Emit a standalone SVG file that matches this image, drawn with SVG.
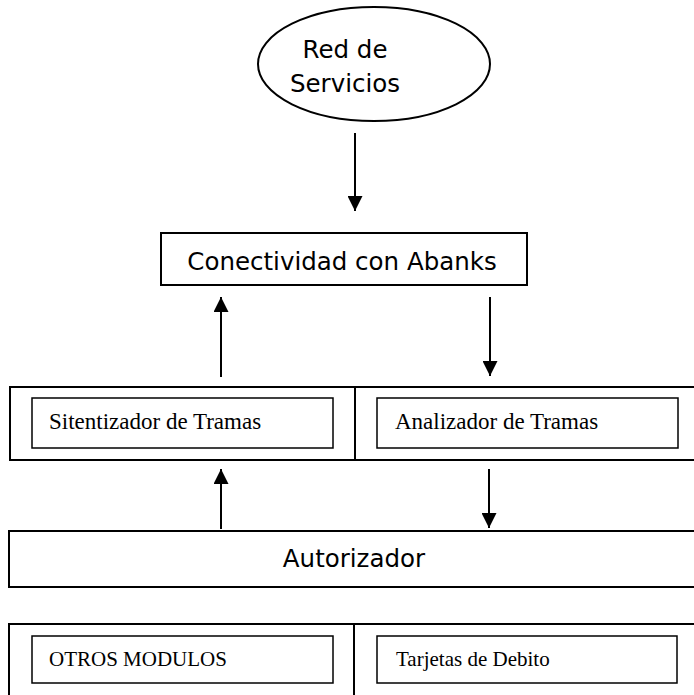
<svg xmlns="http://www.w3.org/2000/svg" width="694" height="695" viewBox="0 0 694 695">
<defs>
<marker id="ah" viewBox="0 0 15 15" refX="15" refY="7.5" markerWidth="15" markerHeight="15" markerUnits="userSpaceOnUse" orient="auto">
<path d="M0,0 L15,7.5 L0,15 z" fill="#000"/>
</marker>
</defs>
<style>
.outer{fill:#fff;stroke:#000;stroke-width:2}
.inner{fill:#fff;stroke:#000;stroke-width:1.5}
.sans{font-family:"DejaVu Sans",Verdana,sans-serif;font-size:24.5px;fill:#000}
.serif{font-family:"Liberation Serif","Times New Roman",serif;fill:#000}
.conn{stroke:#000;stroke-width:2;fill:none;marker-end:url(#ah)}
</style>
<rect x="0" y="0" width="694" height="695" fill="#fff"/>
<g id="red-servicios">
<ellipse cx="374" cy="64" rx="116" ry="57" class="outer"/>
<text class="sans" x="345" y="58" text-anchor="middle">Red de</text>
<text class="sans" x="345" y="92" text-anchor="middle">Servicios</text>
</g>
<g id="conectividad">
<rect x="161" y="233" width="366" height="52" class="outer"/>
<text class="sans" x="342" y="270" text-anchor="middle" font-size="25.5">Conectividad con Abanks</text>
</g>
<g id="fila-tramas">
<rect x="10" y="387" width="700" height="73" class="outer"/>
<line x1="355" y1="387" x2="355" y2="460" stroke="#000" stroke-width="2"/>
</g>
<g id="sitentizador">
<rect x="32" y="398" width="301" height="50" class="inner"/>
<text class="serif" x="49" y="429" font-size="23">Sitentizador de Tramas</text>
</g>
<g id="analizador">
<rect x="377" y="398" width="301" height="50" class="inner"/>
<text class="serif" x="395" y="429" font-size="23">Analizador de Tramas</text>
</g>
<g id="autorizador">
<rect x="9" y="531" width="700" height="56" class="outer"/>
<text class="sans" x="354" y="567" text-anchor="middle" font-size="25.5">Autorizador</text>
</g>
<g id="fila-modulos">
<rect x="9" y="624" width="700" height="80" class="outer"/>
<line x1="354" y1="624" x2="354" y2="695" stroke="#000" stroke-width="2"/>
</g>
<g id="otros-modulos">
<rect x="32" y="636" width="301" height="47" class="inner"/>
<text class="serif" x="49" y="666" font-size="21">OTROS MODULOS</text>
</g>
<g id="tarjetas-debito">
<rect x="377" y="636" width="300" height="47" class="inner"/>
<text class="serif" x="396" y="666" font-size="21">Tarjetas de Debito</text>
</g>
<g id="connectors">
<line x1="355" y1="133" x2="355" y2="211" class="conn"/>
<line x1="221" y1="377" x2="221" y2="297" class="conn"/>
<line x1="490" y1="297" x2="490" y2="376" class="conn"/>
<line x1="221" y1="529" x2="221" y2="469" class="conn"/>
<line x1="489" y1="469" x2="489" y2="528" class="conn"/>
</g>
</svg>
